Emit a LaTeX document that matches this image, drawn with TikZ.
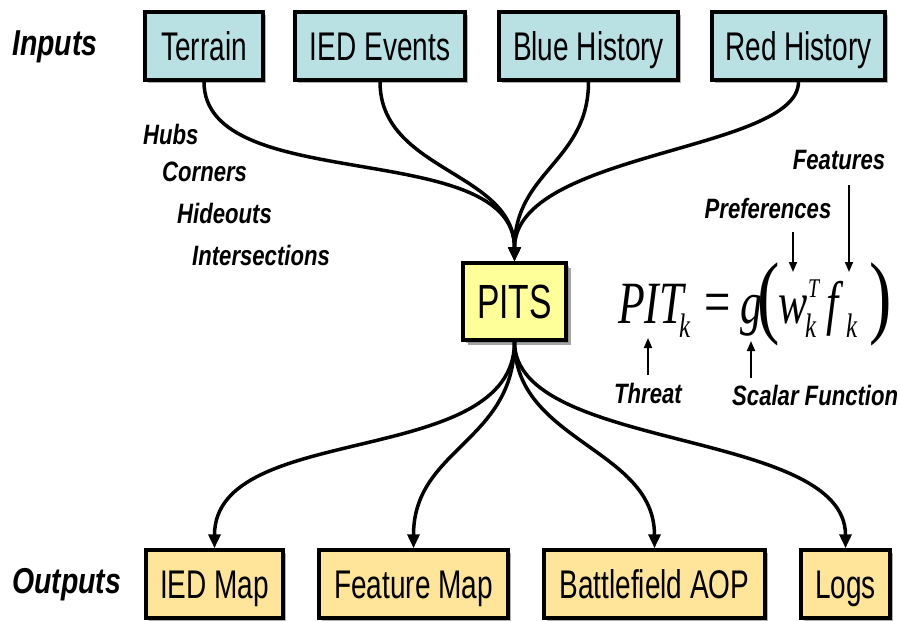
\documentclass[tikz,border=0pt]{standalone}
\usepackage{fontspec}
\usetikzlibrary{arrows.meta,shadows}
\newfontfamily\boxfont[FakeStretch=0.70]{Liberation Sans}
\newfontfamily\labfont[FakeStretch=0.79]{Liberation Sans}
\newfontfamily\eqfont[FakeStretch=0.73]{Liberation Serif}
\definecolor{inblue}{RGB}{185,225,228}
\definecolor{outtan}{RGB}{255,229,153}
\definecolor{pitsyel}{RGB}{255,255,153}
\begin{document}
\begin{tikzpicture}[x=1pt,y=-1pt,
  boxbase/.style={draw=black,line width=3.5pt,inner sep=0pt,minimum height=68pt,
     font=\boxfont\fontsize{40}{44}\selectfont,text height=28.6pt,text depth=0pt,
     drop shadow={shadow xshift=3pt,shadow yshift=-3pt,fill=black!50,opacity=0.6}},
  inbox/.style={boxbase,fill=inblue},
  outbox/.style={boxbase,fill=outtan},
  pitsbox/.style={boxbase,fill=pitsyel,minimum width=103pt,minimum height=77pt,
     font=\boxfont\fontsize{48}{52}\selectfont,text height=34.4pt,
     drop shadow={shadow xshift=5pt,shadow yshift=-5pt,fill=black!50,opacity=0.7}},
  biglab/.style={inner sep=0pt,font=\labfont\bfseries\itshape\fontsize{36}{40}\selectfont},
  smalllab/.style={inner sep=0pt,font=\labfont\bfseries\itshape\fontsize{28}{32}\selectfont},
  eqmain/.style={inner sep=0pt,anchor=base west,font=\eqfont\itshape\fontsize{60}{62}\selectfont},
  equp/.style={inner sep=0pt,anchor=base west,font=\eqfont\fontsize{64}{66}\selectfont},
  eqparen/.style={inner sep=0pt,anchor=base west,font=\eqfont\fontsize{92}{94}\selectfont},
  eqsub/.style={inner sep=0pt,anchor=base west,font=\eqfont\itshape\fontsize{34}{36}\selectfont},
  eqsup/.style={inner sep=0pt,anchor=base west,font=\eqfont\itshape\fontsize{27}{29}\selectfont},
  conn/.style={line width=3.5pt,-{Triangle[length=14pt,width=12pt]}},
  thinarrow/.style={line width=1.8pt,-{Triangle[length=10pt,width=8pt]}}
]
\useasboundingbox[fill=white] (0,0) rectangle (900,621);

% input boxes
\node[inbox,minimum width=118pt] (terrain) at (204,46) {Terrain};
\node[inbox,minimum width=170pt] (ied) at (380,46) {IED Events};
\node[inbox,minimum width=179pt] (blue) at (588.5,46) {Blue History};
\node[inbox,minimum width=173pt] (red) at (798.5,46) {Red History};

% central box
\node[pitsbox] (pits) at (514.5,301.5) {PITS};

% output boxes
\node[outbox,minimum width=137pt] (iedmap) at (214.5,584) {IED Map};
\node[outbox,minimum width=189pt] (featmap) at (413.5,584) {Feature Map};
\node[outbox,minimum width=221pt] (aop) at (654.5,584) {Battlefield AOP};
\node[outbox,minimum width=89pt] (logs) at (845.5,584) {Logs};

% side labels
\node[biglab,anchor=west] (inputs) at (12,47) {Inputs};
\node[biglab,anchor=west] (outputs) at (12,585) {Outputs};

\node[smalllab,anchor=west] (hubs) at (143,134) {Hubs};
\node[smalllab,anchor=west] (corners) at (162,172) {Corners};
\node[smalllab,anchor=west] (hideouts) at (177,213) {Hideouts};
\node[smalllab,anchor=west] (inters) at (192,255) {Intersections};

% input connectors
\draw[conn] (terrain.south) .. controls +(0,115) and +(0,-125) .. (pits.north);
\draw[conn] (ied.south) .. controls +(0,90) and +(0,-90) .. (pits.north);
\draw[conn] (blue.south) .. controls +(0,80) and +(0,-90) .. (pits.north);
\draw[conn] (red.south) .. controls +(0,70) and +(0,-110) .. (pits.north);

% output connectors
\draw[conn] (pits.south) .. controls +(0,128) and +(0,-128) .. (iedmap.north);
\draw[conn] (pits.south) .. controls +(0,100) and +(0,-100) .. (featmap.north);
\draw[conn] (pits.south) .. controls +(0,100) and +(0,-100) .. (aop.north);
\draw[conn] (pits.south) .. controls +(0,110) and +(0,-120) .. (logs.north);

% formula
\node[eqmain] (eqpit) at (618,323) {PIT};
\node[eqsub] (eqka) at (679,337) {k};
\node[equp] (eqeq) at (704,323) {=};
\node[eqmain] (eqg) at (740,323) {g};
\node[eqparen] (eqlp) at (757,326) {(};
\node[eqmain] (eqw) at (778,323) {w};
\node[eqsup] (eqT) at (808,297) {T};
\node[eqsub] (eqkb) at (805,337) {k};
\node[eqmain] (eqf) at (826,323) {f};
\node[eqsub] (eqkc) at (846,337) {k};
\node[eqparen] (eqrp) at (869,326) {)};

\node[smalllab] (features) at (839,160) {Features};
\node[smalllab] (prefs) at (768,208) {Preferences};
\node[smalllab] (threat) at (648,393) {Threat};
\node[smalllab,anchor=west] (scalar) at (732,395) {Scalar Function};

\coordinate (fa1) at (849,185);
\coordinate (fa2) at (849,272);
\coordinate (pa1) at (793,232);
\coordinate (pa2) at (793,272);
\coordinate (ta1) at (648,375);
\coordinate (ta2) at (648,338);
\coordinate (sa1) at (751,378);
\coordinate (sa2) at (751,341);
\draw[thinarrow] (fa1) -- (fa2);
\draw[thinarrow] (pa1) -- (pa2);
\draw[thinarrow] (ta1) -- (ta2);
\draw[thinarrow] (sa1) -- (sa2);
\end{tikzpicture}
\end{document}
